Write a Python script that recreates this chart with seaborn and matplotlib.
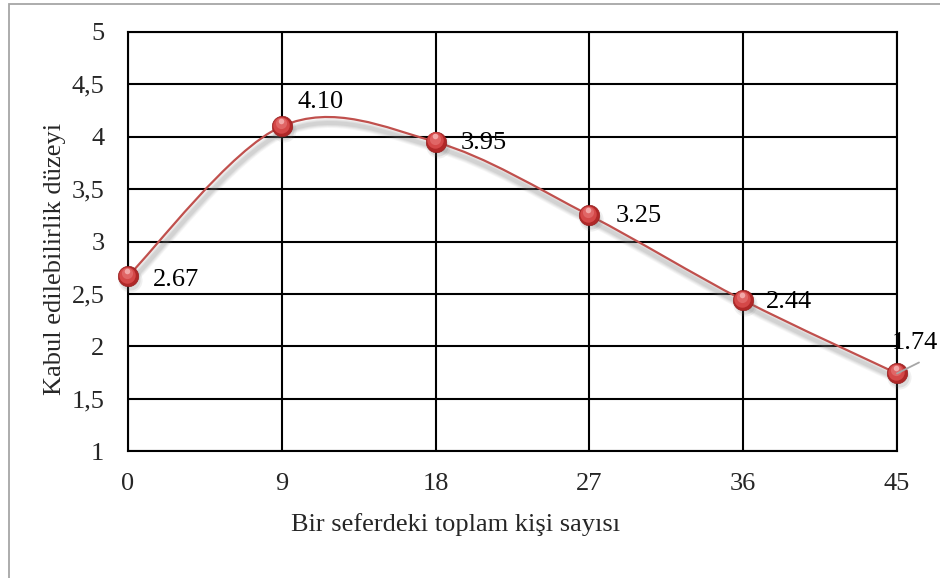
import numpy as np
import matplotlib
matplotlib.use("Agg")
import matplotlib.pyplot as plt
import matplotlib.transforms as mtransforms
from matplotlib.path import Path
from matplotlib.patches import PathPatch, Rectangle
import seaborn as sns
import pandas as pd

# ---- data ----
people = [0, 9, 18, 27, 36, 45]
acceptability = [2.67, 4.10, 3.95, 3.25, 2.44, 1.74]
point_labels = ["2.67", "4.10", "3.95", "3.25", "2.44", "1.74"]
x_ticks = [0, 9, 18, 27, 36, 45]
y_ticks = [1, 1.5, 2, 2.5, 3, 3.5, 4, 4.5, 5]
x_title = "Bir seferdeki toplam kişi sayısı"
y_title = "Kabul edilebilirlik düzeyi"

# label offsets (pixels) - styling only
label_offsets = [(25, -4), (16, 24), (25, -1), (26, -1), (23, -2), (-5, 30)]

sns.set_style("white")
plt.rcParams['font.family'] = ['Liberation Serif', 'DejaVu Serif']
FS = 19

W, H = 940, 578
fig = plt.figure(figsize=(W / 100, H / 100), dpi=100)
L, R, T, B = 128, 897, 32, 451
ax = fig.add_axes([L / W, (H - B) / H, (R - L) / W, (B - T) / H])

df = pd.DataFrame({"x": people, "y": acceptability})

# smoothed curve (Excel-like Catmull-Rom bezier)
xs = np.array(people, float)
ys = np.array(acceptability, float)
n = len(xs)
verts = [(xs[0], ys[0])]
codes = [Path.MOVETO]
for i in range(n - 1):
    p0 = np.array([xs[max(i - 1, 0)], ys[max(i - 1, 0)]])
    p1 = np.array([xs[i], ys[i]])
    p2 = np.array([xs[i + 1], ys[i + 1]])
    p3 = np.array([xs[min(i + 2, n - 1)], ys[min(i + 2, n - 1)]])
    c1 = p1 + (p2 - p0) / 6.0
    c2 = p2 - (p3 - p1) / 6.0
    verts += [tuple(c1), tuple(c2), tuple(p2)]
    codes += [Path.CURVE4] * 3
path = Path(verts, codes)

# shadow of the line
for lw, a in [(10, 0.07), (8, 0.09), (6, 0.11), (4, 0.13)]:
    sh = mtransforms.offset_copy(ax.transData, fig=fig, x=2, y=-6, units='dots')
    ax.add_patch(PathPatch(path, fill=False, edgecolor='#808080', lw=lw * 0.72,
                           alpha=a, transform=sh, capstyle='round', zorder=3))
ax.add_patch(PathPatch(path, fill=False, edgecolor='#c0504d', lw=1.6, zorder=4))

# marker shadows
for s, a in [(300, 0.10), (210, 0.15)]:
    sh = mtransforms.offset_copy(ax.transData, fig=fig, x=2, y=-4, units='dots')
    ax.scatter(people, acceptability, s=s, color='#707070', alpha=a, lw=0,
               transform=sh, zorder=5, clip_on=False)

# sphere markers
sns.scatterplot(data=df, x="x", y="y", ax=ax, s=215, color='#b02828',
                edgecolor='#962020', linewidth=0.5, zorder=6, clip_on=False, legend=False)
mid = mtransforms.offset_copy(ax.transData, fig=fig, x=-1, y=1.5, units='dots')
ax.scatter(people, acceptability, s=140, color='#d44848', lw=0, transform=mid,
           zorder=7, clip_on=False)
mid2 = mtransforms.offset_copy(ax.transData, fig=fig, x=-1, y=3, units='dots')
ax.scatter(people, acceptability, s=65, color='#e06666', lw=0, transform=mid2,
           zorder=8, clip_on=False)
hl = mtransforms.offset_copy(ax.transData, fig=fig, x=-1, y=5.5, units='dots')
ax.scatter(people, acceptability, s=16, color='#f2a8a8', lw=0, transform=hl,
           zorder=9, clip_on=False)

# data labels
for xv, yv, lab, (dx, dy) in zip(people, acceptability, point_labels, label_offsets):
    ax.annotate(lab, xy=(xv, yv), xytext=(dx, dy), textcoords='offset pixels',
                ha='left', va='center', fontsize=FS, color='black', zorder=10,
                annotation_clip=False)
# leader line for last label
ax.annotate('', xy=(people[-1], acceptability[-1]), xytext=(22, 11),
            textcoords='offset pixels',
            arrowprops=dict(arrowstyle='-', color='#a6a6a6', lw=1.3,
                            shrinkA=0, shrinkB=0), zorder=9, annotation_clip=False)

ax.set_xlim(0, 45)
ax.set_ylim(1, 5)
ax.set_xticks(x_ticks)
ax.set_yticks(y_ticks)
ax.set_yticklabels([f"{v:g}".replace('.', ',') for v in y_ticks])
ax.tick_params(axis='x', length=0, pad=16, labelsize=FS)
ax.tick_params(axis='y', length=0, pad=17, labelsize=FS)
ax.grid(True, color='black', lw=1.5)
ax.set_axisbelow(True)
for sp in ax.spines.values():
    sp.set_visible(True)
    sp.set_color('black')
    sp.set_linewidth(1.5)

ax.set_xlabel(x_title, fontsize=FS)
ax.set_ylabel(y_title, fontsize=FS)
ax.xaxis.set_label_coords((456 - L) / (R - L), (B - 513) / (B - T))
ax.xaxis.label.set_va('top')
ax.yaxis.set_label_coords((66 - L) / (R - L), (B - 259) / (B - T))

# outer chart border
fig.add_artist(Rectangle((8.5 / W, -1), 2, 1 - 3.5 / H + 1, fill=False,
                         edgecolor='#a6a6a6', lw=1.3, transform=fig.transFigure))

fig.savefig("out.png", dpi=100)
